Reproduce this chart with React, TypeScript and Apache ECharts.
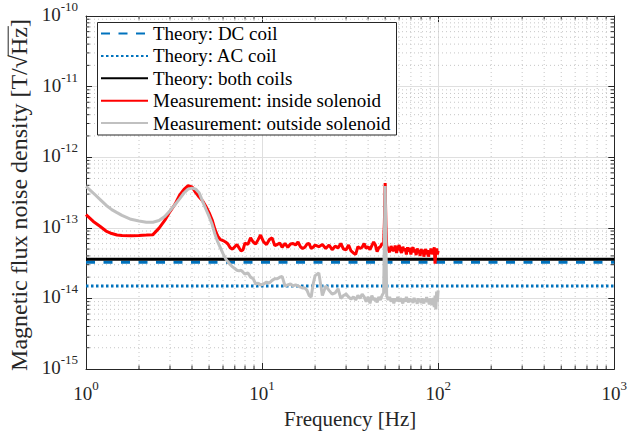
import React, { useEffect, useRef } from "react";
import * as echarts from "echarts";

// ---------- data ----------
const freq = [
  1.0, 1.1, 1.2, 1.3, 1.4, 1.5, 1.6,
  1.8, 2.0, 2.2, 2.4, 2.6, 2.8, 3.0, 3.2, 3.4, 3.6, 3.8,
  4.0, 4.2, 4.4, 4.6, 4.8, 5.0, 5.2, 5.4, 5.6, 5.8, 6.0, 6.2, 6.4, 6.6, 6.8, 7.0, 7.2, 7.4, 7.6, 7.8, 8.0,
  8.3, 8.6, 8.9, 9.2, 9.5, 9.8,
  10.2, 10.6, 11.0, 11.4, 11.8, 12.2, 12.6,
  13.0, 13.5, 14.0, 14.5, 15.0, 15.5, 16.0, 16.5, 17.0, 17.5, 18.0, 18.5, 19.0, 19.5, 20,
  21, 22, 23, 24, 25, 26, 27, 28, 29, 30, 31, 32, 33, 34, 35, 36, 37, 38,
  39, 40, 41, 42, 43, 44, 45, 46, 47, 48, 49,
  49.5, 50, 50.5,
  51, 52, 53, 54, 55, 56, 57, 58, 59, 60,
  61, 62, 63, 64, 65, 66, 67, 68, 69, 70,
  71, 72, 73, 74, 75, 76, 77, 78, 79, 80,
  81, 82, 83, 84, 85, 86, 87, 88, 89, 90,
  91, 92, 93, 94, 95, 96, 97, 98, 99, 100,
];

// values in units of 1e-14 T/sqrt(Hz)
const insideSolenoid = [
  15.4, 12.3, 10.5, 9.0, 8.3, 7.9, 7.8,
  7.7, 7.8, 7.9, 8.0, 9.9, 12.7, 17.0, 21.4, 29.0, 35.0, 39.5,
  38.0, 31.5, 27.0, 24.0, 20.0, 16.4, 13.0, 9.5, 7.6, 6.8, 6.6, 6.3, 5.9, 5.2, 5.0, 5.4, 5.8, 5.2, 4.7, 4.9, 6.1,
  5.8, 7.2, 6.3, 5.9, 6.8, 7.9,
  6.3, 5.8, 6.8, 7.2, 5.6, 5.8, 6.1,
  5.3, 6.0, 5.3, 5.9, 6.0, 5.7, 6.3, 5.4, 5.1, 5.3, 5.9, 6.0, 5.1, 5.3, 5.7,
  5.4, 5.8, 5.1, 5.7, 4.9, 5.5, 5.2, 6.0, 5.0, 4.9, 5.7, 4.7, 4.4, 4.2, 5.4, 5.1, 5.3, 6.0,
  5.1, 5.4, 4.9, 5.6, 6.3, 5.7, 4.6, 5.2, 5.4, 6.0, 5.8,
  12, 43, 11,
  5.6, 5.0, 4.5, 5.5, 4.9, 4.7, 5.6, 4.4, 5.2, 5.7,
  4.8, 4.4, 5.4, 4.7, 5.1, 4.2, 5.3, 4.6, 5.2, 4.2,
  5.0, 5.3, 4.5, 4.9, 4.1, 5.1, 4.4, 4.8, 4.0, 5.0,
  4.3, 4.9, 3.9, 4.7, 5.0, 4.2, 4.8, 3.9, 4.7, 4.4,
  5.1, 4.2, 4.9, 4.3, 5.3, 3.1, 4.6, 5.1, 4.2, 4.7,
];

const outsideSolenoid = [
  38.5, 31.1, 25.3, 20.9, 18.1, 16.4, 15.0,
  13.2, 12.5, 12.0, 12.0, 12.7, 14.5, 17.5, 21.2, 25.7, 31.1, 35.3,
  36.5, 35.3, 31.1, 23.5, 18.3, 14.5, 11.2, 8.1, 6.3, 5.2, 4.3, 3.67, 3.3, 3.0, 2.8, 2.65, 2.5, 2.45, 2.5, 2.35, 2.2,
  2.3, 2.0, 1.9, 1.6, 1.65, 1.55,
  1.6, 1.7, 1.65, 1.8, 1.9, 1.9, 2.0,
  2.05, 1.5, 1.55, 1.6, 1.5, 1.55, 1.5, 1.45, 1.4, 1.4, 1.3, 1.1, 1.05, 1.6, 2.1,
  2.3, 1.1, 1.5, 1.3, 1.15, 1.2, 1.37, 1.0, 1.1, 1.15, 1.05, 0.98, 1.05, 0.95, 1.1, 1.0, 1.15, 1.05,
  0.9, 1.05, 0.85, 1.1, 0.95, 1.0, 0.88, 1.05, 0.95, 1.1, 1.2,
  7, 39, 7,
  1.1, 0.95, 1.05, 0.9, 1.0, 0.85, 1.0, 0.92, 1.05, 0.9,
  1.0, 0.95, 0.85, 1.0, 0.9, 1.05, 0.95, 0.88, 1.0, 0.9,
  0.97, 0.86, 1.02, 0.9, 0.95, 0.84, 1.0, 0.9, 0.96, 0.86,
  1.0, 0.92, 0.85, 0.98, 0.9, 1.05, 0.88, 0.95, 0.82, 1.0,
  0.9, 0.96, 0.8, 1.02, 0.75, 1.1, 0.7, 1.25, 0.9, 1.3,
];

const theoryFreq = [1, 1000];
const theoryDC = [3.25, 3.25];
const theoryAC = [1.5, 1.5];
const theoryBoth = [3.6, 3.6];

const UNIT = 1e-14;

const xTickExponents = [0, 1, 2, 3];
const yTickExponents = [-15, -14, -13, -12, -11, -10];
const minorMultipliers = [2, 3, 4, 5, 6, 7, 8, 9];

const seriesNames = [
  "Theory: DC coil",
  "Theory: AC coil",
  "Theory: both coils",
  "Measurement: inside solenoid",
  "Measurement: outside solenoid",
];

const yLabelText = "Magnetic flux noise density [T/\u221AHz]";
const yLabelPrefix = "Magnetic flux noise density [T/\u221A";
const xLabelText = "Frequency [Hz]";

// ---------- styling ----------
const FONT = "Liberation Serif";
const AXIS_COLOR = "#262626";
const BLUE = "#0072BD";

const xMin = Math.pow(10, xTickExponents[0]);
const xMax = Math.pow(10, xTickExponents[xTickExponents.length - 1]);
const yMin = Math.pow(10, yTickExponents[0]);
const yMax = Math.pow(10, yTickExponents[yTickExponents.length - 1]);

const pow10Formatter = (v: number) => {
  const e = Math.round(Math.log10(v));
  return `{b|10}{s|${e}}`;
};

const rich = {
  b: { fontFamily: FONT, fontSize: 19, color: AXIS_COLOR, lineHeight: 24, verticalAlign: "bottom" },
  s: { fontFamily: FONT, fontSize: 13, color: AXIS_COLOR, lineHeight: 24, verticalAlign: "top" },
};

function measure(text: string, size: number) {
  const c = document.createElement("canvas").getContext("2d");
  if (!c) return text.length * size * 0.45;
  c.font = `${size}px "Liberation Serif"`;
  return c.measureText(text).width;
}

export default function App() {
  const ref = useRef<HTMLDivElement>(null);

  useEffect(() => {
    if (!ref.current) return;
    const chart = echarts.init(ref.current, undefined, { renderer: "svg" });

    const pair = (xs: number[], ys: number[]) => xs.map((x, i) => [x, ys[i] * UNIT]);

    const minorData: number[][] = [];
    for (let i = 0; i < xTickExponents.length - 1; i++) {
      for (const m of minorMultipliers) minorData.push([m * Math.pow(10, xTickExponents[i]), yMin, 0]);
    }
    for (let i = 0; i < yTickExponents.length - 1; i++) {
      for (const m of minorMultipliers) minorData.push([xMin, m * Math.pow(10, yTickExponents[i]), 1]);
    }

    const yFs = 24;
    const W = measure(yLabelText, yFs);
    const P = measure(yLabelPrefix, yFs);
    const H = measure("Hz", yFs);

    const lineBase = {
      type: "line",
      showSymbol: false,
      symbol: "none",
      xAxisIndex: 0,
      yAxisIndex: 0,
    };

    chart.setOption({
      animation: false,
      backgroundColor: "#ffffff",
      textStyle: { fontFamily: FONT },
      grid: { left: 86, top: 9, width: 532, height: 361, containLabel: false },
      xAxis: [
        {
          type: "log",
          logBase: 10,
          min: xMin,
          max: xMax,
          position: "bottom",
          axisLine: { show: true, lineStyle: { color: AXIS_COLOR, width: 1 } },
          axisTick: { show: true, inside: true, length: 6, lineStyle: { color: AXIS_COLOR } },
          axisLabel: { formatter: pow10Formatter, rich, margin: 10, fontFamily: FONT },
          splitLine: { show: true, lineStyle: { color: "#dfdfdf", width: 1 } },
          name: xLabelText,
          nameLocation: "middle",
          nameGap: 39,
          nameTextStyle: { fontFamily: FONT, fontSize: 21, color: AXIS_COLOR },
        },
        {
          type: "log",
          logBase: 10,
          min: xMin,
          max: xMax,
          position: "top",
          axisLine: { show: true, lineStyle: { color: AXIS_COLOR, width: 1 } },
          axisTick: { show: true, inside: true, length: 6, lineStyle: { color: AXIS_COLOR } },
          axisLabel: { show: false },
          splitLine: { show: false },
        },
      ],
      yAxis: [
        {
          type: "log",
          logBase: 10,
          min: yMin,
          max: yMax,
          splitNumber: 5,
          position: "left",
          axisLine: { show: true, lineStyle: { color: AXIS_COLOR, width: 1 } },
          axisTick: { show: true, inside: true, length: 6, lineStyle: { color: AXIS_COLOR } },
          axisLabel: { formatter: pow10Formatter, rich, margin: 8, padding: [0, 0, 8, 0], fontFamily: FONT },
          splitLine: { show: true, lineStyle: { color: "#dfdfdf", width: 1 } },
        },
        {
          type: "log",
          logBase: 10,
          min: yMin,
          max: yMax,
          splitNumber: 5,
          position: "right",
          axisLine: { show: true, lineStyle: { color: AXIS_COLOR, width: 1 } },
          axisTick: { show: true, inside: true, length: 6, lineStyle: { color: AXIS_COLOR } },
          axisLabel: { show: false },
          splitLine: { show: false },
        },
      ],
      legend: {
        data: seriesNames,
        orient: "vertical",
        left: 100,
        top: 24,
        padding: 0,
        itemWidth: 47,
        itemHeight: 14,
        itemGap: 3.4,
        selectedMode: false,
        z: 5,
        itemStyle: { opacity: 0, borderWidth: 0 },
        textStyle: { fontFamily: FONT, fontSize: 19, color: "#000" },
      },
      graphic: [
        {
          type: "rect",
          z: 3,
          shape: { x: 97.5, y: 22.5, width: 299, height: 112.5 },
          style: { fill: "#ffffff", stroke: AXIS_COLOR, lineWidth: 1 },
        },
        {
          type: "group",
          x: 19,
          y: 195,
          rotation: Math.PI / 2,
          children: [
            {
              type: "text",
              x: 0,
              y: 0,
              style: {
                text: yLabelText,
                fontFamily: FONT,
                fontSize: yFs,
                fill: AXIS_COLOR,
                textAlign: "center",
                textVerticalAlign: "middle",
              },
            },
            {
              type: "line",
              shape: {
                x1: -W / 2 + P - 1,
                y1: -0.45 * yFs,
                x2: -W / 2 + P + H + 1,
                y2: -0.45 * yFs,
              },
              style: { stroke: AXIS_COLOR, lineWidth: 1 },
            },
          ],
        },
      ],
      series: [
        {
          type: "custom",
          name: "minor",
          silent: true,
          z: 1,
          clip: false,
          coordinateSystem: "cartesian2d",
          xAxisIndex: 0,
          yAxisIndex: 0,
          encode: { x: 0, y: 1 },
          data: minorData,
          renderItem: (params: any, api: any) => {
            const kind = api.value(2);
            const dot = { stroke: "#c6c6c6", lineWidth: 1, lineDash: [1, 3] };
            const tick = { stroke: AXIS_COLOR, lineWidth: 1 };
            if (kind === 0) {
              const x = api.value(0);
              const p0 = api.coord([x, yMin]);
              const p1 = api.coord([x, yMax]);
              return {
                type: "group",
                children: [
                  { type: "line", shape: { x1: p0[0], y1: p0[1], x2: p1[0], y2: p1[1] }, style: dot },
                  { type: "line", shape: { x1: p0[0], y1: p0[1], x2: p0[0], y2: p0[1] - 3.5 }, style: tick },
                  { type: "line", shape: { x1: p1[0], y1: p1[1], x2: p1[0], y2: p1[1] + 3.5 }, style: tick },
                ],
              };
            }
            const y = api.value(1);
            const p0 = api.coord([xMin, y]);
            const p1 = api.coord([xMax, y]);
            return {
              type: "group",
              children: [
                { type: "line", shape: { x1: p0[0], y1: p0[1], x2: p1[0], y2: p1[1] }, style: dot },
                { type: "line", shape: { x1: p0[0], y1: p0[1], x2: p0[0] + 3.5, y2: p0[1] }, style: tick },
                { type: "line", shape: { x1: p1[0], y1: p1[1], x2: p1[0] - 3.5, y2: p1[1] }, style: tick },
              ],
            };
          },
        },
        {
          ...lineBase,
          name: seriesNames[0],
          data: pair(theoryFreq, theoryDC),
          lineStyle: { color: BLUE, width: 3, type: [9, 8.5], cap: "butt" },
          itemStyle: { color: BLUE },
        },
        {
          ...lineBase,
          name: seriesNames[1],
          data: pair(theoryFreq, theoryAC),
          lineStyle: { color: BLUE, width: 3, type: [2.5, 2.5], cap: "butt" },
          itemStyle: { color: BLUE },
        },
        {
          ...lineBase,
          name: seriesNames[2],
          data: pair(theoryFreq, theoryBoth),
          lineStyle: { color: "#000000", width: 3 },
          itemStyle: { color: "#000000" },
        },
        {
          ...lineBase,
          name: seriesNames[3],
          data: pair(freq, insideSolenoid),
          lineStyle: { color: "#ff0000", width: 3 },
          itemStyle: { color: "#ff0000" },
        },
        {
          ...lineBase,
          name: seriesNames[4],
          data: pair(freq, outsideSolenoid),
          lineStyle: { color: "#c0c0c0", width: 3 },
          itemStyle: { color: "#c0c0c0" },
        },
      ],
    });

    return () => chart.dispose();
  }, []);

  return (
    <div
      ref={ref}
      style={{ position: "fixed", left: 0, top: 0, width: 630, height: 434, background: "#fff" }}
    />
  );
}
